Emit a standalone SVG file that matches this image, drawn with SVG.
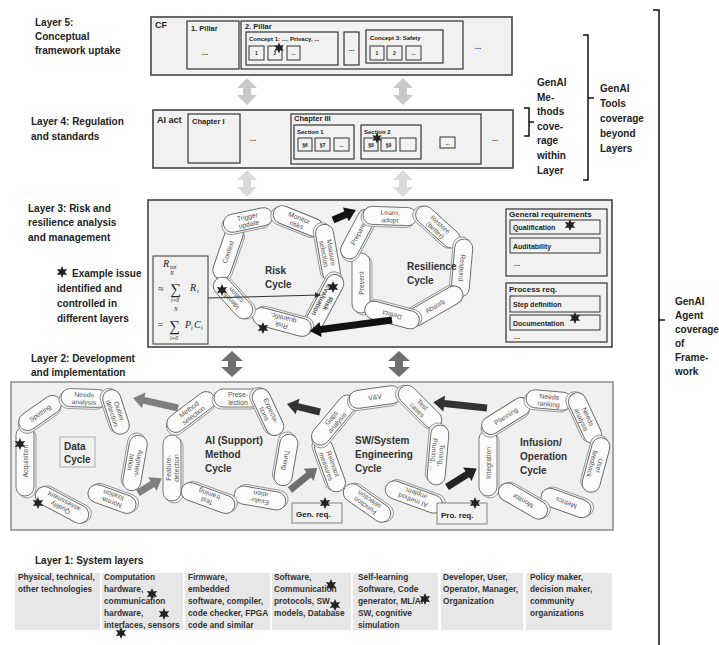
<svg xmlns="http://www.w3.org/2000/svg" xmlns:xlink="http://www.w3.org/1999/xlink" width="719" height="645" viewBox="0 0 719 645">
<style>
text{font-family:"Liberation Sans",Arial,sans-serif}
.lbl{font-size:10px;font-weight:bold;fill:#222}
.box{fill:#f1f1f1;stroke:#444;stroke-width:1.6}
.ibox{fill:#f1f1f1;stroke:#333;stroke-width:1.2}
.sbox{fill:#f1f1f1;stroke:#333;stroke-width:1}
.lay{fill:#f0f0f0;stroke:#8a8a8a;stroke-width:1.5}
.pill{fill:#fbfbfb;stroke:#666;stroke-width:0.9}
.pillb{fill:#f3f3f3;stroke:#888;stroke-width:0.8}
.pt{font-size:6.8px;fill:#555;text-anchor:middle}
.cyc{font-size:10px;font-weight:bold;fill:#333}
.b9{font-size:9px;font-weight:bold;fill:#222}
.b8{font-size:7.5px;font-weight:bold;fill:#222}
.b6{font-size:6px;font-weight:bold;fill:#222}
.s5{font-size:5px;font-weight:bold;fill:#222;text-anchor:middle}
.req{font-size:8px;font-weight:bold;fill:#222}
.req7{font-size:7px;font-weight:bold;fill:#222}
.cell{fill:#e7e7e7}
.tt{font-size:8.3px;font-weight:bold;fill:#333}
.br{fill:none;stroke:#111;stroke-width:1.5}
.m{font-family:"Liberation Serif","Times New Roman",serif;font-style:italic;fill:#222}
.dots{font-size:8px;font-weight:bold;fill:#444;text-anchor:middle}
</style>
<defs>
<path id="star" d="M0,-6 L1.5,-2.6 L5.2,-3 L3,0 L5.2,3 L1.5,2.6 L0,6 L-1.5,2.6 L-5.2,3 L-3,0 L-5.2,-3 L-1.5,-2.6 Z" fill="#222"/>
<marker id="ah" markerWidth="6" markerHeight="6" refX="5" refY="3" orient="auto" markerUnits="userSpaceOnUse"><path d="M0,0 L6,3 L0,6 Z" fill="#333"/></marker>
</defs>

<!-- Layer labels -->
<g id="labels">
<text class="lbl" x="35" y="26">Layer 5:</text>
<text class="lbl" x="35" y="40">Conceptual</text>
<text class="lbl" x="35" y="54">framework uptake</text>
<text class="lbl" x="31" y="125">Layer 4: Regulation</text>
<text class="lbl" x="31" y="140">and standards</text>
<text class="lbl" x="28" y="212">Layer 3: Risk and</text>
<text class="lbl" x="28" y="226">resilience analysis</text>
<text class="lbl" x="28" y="241">and management</text>
<text class="lbl" x="72" y="277">Example issue</text>
<text class="lbl" x="57" y="292">identified and</text>
<text class="lbl" x="57" y="307">controlled  in</text>
<text class="lbl" x="57" y="322">different  layers</text>
<text class="lbl" x="31" y="362">Layer 2: Development</text>
<text class="lbl" x="31" y="376">and implementation</text>
<text class="lbl" x="35" y="564">Layer 1: System layers</text>
</g>

<!-- Brackets -->
<g id="brackets">
<path class="br" d="M653,10 H659 V645 M659,320 H665"/>
<path class="br" d="M583,35 H588 V180 H583 M588,98 H594"/>
<path class="br" d="M524,108 H529 V136 H524 M529,122 H534"/>
<text class="lbl" x="537" y="86">GenAI</text>
<text class="lbl" x="537" y="101">Me-</text>
<text class="lbl" x="537" y="115">thods</text>
<text class="lbl" x="537" y="130">cove-</text>
<text class="lbl" x="537" y="144">rage</text>
<text class="lbl" x="537" y="159">within</text>
<text class="lbl" x="537" y="174">Layer</text>
<text class="lbl" x="600" y="92">GenAI</text>
<text class="lbl" x="600" y="107">Tools</text>
<text class="lbl" x="600" y="122">coverage</text>
<text class="lbl" x="600" y="137">beyond</text>
<text class="lbl" x="600" y="152">Layers</text>
<text class="lbl" x="675" y="305">GenAI</text>
<text class="lbl" x="675" y="319">Agent</text>
<text class="lbl" x="675" y="333">coverage</text>
<text class="lbl" x="675" y="347">of</text>
<text class="lbl" x="675" y="361">Frame-</text>
<text class="lbl" x="675" y="375">work</text>
</g>

<!-- Layer 5 -->
<g id="layer5">
<rect class="box" x="151" y="17" width="361" height="58"/>
<text class="b9" x="155" y="28">CF</text>
<rect class="ibox" x="187" y="21" width="52" height="48"/>
<text class="b8" x="191" y="31">1. Pillar</text>
<text class="dots" x="205" y="55">...</text>
<rect class="ibox" x="241" y="21" width="222" height="48"/>
<text class="b8" x="245" y="29">2. Pillar</text>
<rect class="ibox" x="246" y="32" width="92" height="33"/>
<text class="b6" x="249" y="41">Concept 1: ..., Privacy, ...</text>
<rect class="sbox" x="249" y="46" width="15" height="14"/>
<rect class="sbox" x="268" y="46" width="14" height="14"/>
<rect class="sbox" x="287" y="46" width="13" height="14"/>
<text class="s5" x="256.5" y="55">1</text>
<text class="s5" x="275" y="55">2</text>
<text class="s5" x="293.5" y="55">...</text>
<rect class="ibox" x="344" y="32" width="15" height="33"/>
<text class="dots" x="351.5" y="51">...</text>
<rect class="ibox" x="366" y="30" width="77" height="33"/>
<text class="b6" x="370" y="40">Concept 3: Safety</text>
<rect class="sbox" x="370" y="46" width="14" height="14"/>
<rect class="sbox" x="387" y="46" width="15" height="14"/>
<rect class="sbox" x="406" y="46" width="15" height="14"/>
<text class="s5" x="377" y="55">1</text>
<text class="s5" x="394.5" y="55">2</text>
<text class="s5" x="413.5" y="55">...</text>
<text class="dots" x="478" y="49">...</text>
<use href="#star" transform="translate(279,48) scale(0.9)"/>
</g>

<!-- Layer 4 -->
<g id="layer4">
<rect class="box" x="153" y="110" width="360" height="58"/>
<text class="b9" x="157" y="123">AI act</text>
<rect class="ibox" x="188" y="114" width="52" height="49"/>
<text class="b8" x="192" y="124">Chapter I</text>
<text class="dots" x="253" y="141">...</text>
<rect class="ibox" x="291" y="114" width="190" height="50"/>
<text class="b8" x="294" y="121">Chapter III</text>
<rect class="ibox" x="294" y="125" width="60" height="34"/>
<text class="b6" x="297" y="134">Section 1</text>
<rect class="sbox" x="298" y="138" width="14" height="13"/>
<rect class="sbox" x="315" y="138" width="15" height="13"/>
<rect class="sbox" x="334" y="138" width="15" height="13"/>
<text class="s5" x="305" y="146.5">§6</text>
<text class="s5" x="322.5" y="146.5">§7</text>
<text class="s5" x="341.5" y="146.5">...</text>
<rect class="ibox" x="361" y="125" width="60" height="34"/>
<text class="b6" x="364" y="134">Section 2</text>
<rect class="sbox" x="364" y="138" width="14" height="13"/>
<rect class="sbox" x="381" y="138" width="15" height="13"/>
<rect class="sbox" x="400" y="138" width="16" height="13"/>
<text class="s5" x="371" y="146.5">§8</text>
<text class="s5" x="388.5" y="146.5">§9</text>
<rect class="sbox" x="440" y="137" width="15" height="11"/>
<text class="s5" x="447.5" y="144.5">...</text>
<text class="dots" x="495" y="141">...</text>
<use href="#star" transform="translate(377,138) scale(0.9)"/>
</g>

<!-- Layer 3 -->
<g id="layer3">
<rect class="box" x="148" y="200" width="464" height="147"/>
<rect class="ibox" x="506" y="209" width="101" height="67"/>
<text class="req" x="509" y="217">General requirements</text>
<rect class="sbox" x="510" y="220" width="90" height="14"/>
<text class="req7" x="513" y="230">Qualification</text>
<rect class="sbox" x="510" y="238" width="90" height="15"/>
<text class="req7" x="513" y="248.5">Auditability</text>
<text class="dots" x="517" y="266">...</text>
<rect class="ibox" x="506" y="283" width="101" height="59"/>
<text class="req" x="509" y="292">Process req.</text>
<rect class="sbox" x="510" y="296" width="90" height="16"/>
<text class="req7" x="513" y="307">Step definition</text>
<rect class="sbox" x="510" y="315" width="90" height="15"/>
<text class="req7" x="513" y="325.5">Documentation</text>
<text class="dots" x="517" y="339">...</text>
<use href="#star" transform="translate(570,225)"/>
<use href="#star" transform="translate(575,318)"/>
</g>

<g id="formula">
<rect class="sbox" x="153" y="256" width="55" height="88" stroke="#444"/>
<text class="m" x="163" y="267" font-size="10">R</text>
<text class="m" x="170" y="269" font-size="6">tot</text>
<text class="m" x="170" y="275" font-size="5.5">N</text>
<text class="m" x="158" y="292" font-size="10" font-style="normal">≈</text>
<text class="m" x="170" y="294" font-size="15" font-style="normal">∑</text>
<text class="m" x="190" y="291" font-size="10">R</text>
<text class="m" x="197" y="293" font-size="6">i</text>
<text class="m" x="171" y="302" font-size="5.5">i=0</text>
<text class="m" x="174" y="311" font-size="5.5">N</text>
<text class="m" x="157" y="328" font-size="10" font-style="normal">=</text>
<text class="m" x="169" y="331" font-size="15" font-style="normal">∑</text>
<text class="m" x="185" y="328" font-size="10">P</text>
<text class="m" x="191" y="330" font-size="6">i</text>
<text class="m" x="194" y="328" font-size="10">C</text>
<text class="m" x="201" y="330" font-size="6">i</text>
<text class="m" x="170" y="340" font-size="5.5">i=0</text>
</g>

<!-- Risk cycle -->
<g id="risk-cycle">
<g transform="translate(228,252) rotate(-71)"><rect class="pillb" x="-30" y="-7" width="56" height="18" rx="9"/><rect class="pill" x="-28" y="-9" width="56" height="18" rx="9"/><text class="pt" y="2.5">Context</text></g>
<g transform="translate(248,220) rotate(-12)"><rect class="pillb" x="-27" y="-7" width="50" height="18" rx="9"/><rect class="pill" x="-25" y="-9" width="50" height="18" rx="9"/><text class="pt" y="-1">Trigger</text><text class="pt" y="6.5">update</text></g>
<g transform="translate(298,221) rotate(22)"><rect class="pillb" x="-28" y="-7" width="52" height="18" rx="9"/><rect class="pill" x="-26" y="-9" width="52" height="18" rx="9"/><text class="pt" y="-1">Monitor</text><text class="pt" y="6.5">risks</text></g>
<g transform="translate(328,253) rotate(80)"><rect class="pillb" x="-31" y="-7" width="58" height="18" rx="9"/><rect class="pill" x="-29" y="-9" width="58" height="18" rx="9"/><text class="pt" y="-1">Measure</text><text class="pt" y="6.5">selection</text></g>
<g transform="translate(325,302) rotate(118)"><rect class="pillb" x="-32" y="-7" width="60" height="18" rx="9"/><rect class="pill" x="-30" y="-9" width="60" height="18" rx="9"/><text class="pt" y="-1" font-weight="bold">Risk</text><text class="pt" y="6.5" font-weight="bold">Evaluation</text></g>
<g transform="translate(282,322) rotate(195)"><rect class="pillb" x="-32" y="-7" width="60" height="18" rx="9"/><rect class="pill" x="-30" y="-9" width="60" height="18" rx="9"/><text class="pt" y="-1">Risk</text><text class="pt" y="6.5">quantific.</text></g>
<g transform="translate(233,298) rotate(228)"><rect class="pillb" x="-27" y="-7" width="50" height="18" rx="9"/><rect class="pill" x="-25" y="-9" width="50" height="18" rx="9"/><text class="pt" y="-1">Identifi-</text><text class="pt" y="6.5">cation</text></g>
<text class="cyc" x="265" y="274">Risk</text>
<text class="cyc" x="265" y="288">Cycle</text>
<use href="#star" transform="translate(222,290)"/>
<use href="#star" transform="translate(263,328)"/>
<use href="#star" transform="translate(333,287)"/>
</g>

<!-- Resilience cycle -->
<g id="resilience-cycle">
<g transform="translate(361,283) rotate(-90)"><rect class="pillb" x="-32" y="-7" width="60" height="18" rx="9"/><rect class="pill" x="-30" y="-9" width="60" height="18" rx="9"/><text class="pt" y="2.5">Prevent</text></g>
<g transform="translate(358,234) rotate(-62)"><rect class="pillb" x="-29" y="-7" width="54" height="18" rx="9"/><rect class="pill" x="-27" y="-9" width="54" height="18" rx="9"/><text class="pt" y="2.5">Prepare</text></g>
<g transform="translate(390,216) rotate(2)"><rect class="pillb" x="-29" y="-7" width="54" height="18" rx="9"/><rect class="pill" x="-27" y="-9" width="54" height="18" rx="9"/><text class="pt" y="-1">Learn,</text><text class="pt" y="6.5">adopt</text></g>
<g transform="translate(438,227) rotate(42)"><rect class="pillb" x="-29" y="-7" width="54" height="18" rx="9"/><rect class="pill" x="-27" y="-9" width="54" height="18" rx="9"/><text class="pt" y="-1">Restore</text><text class="pt" y="6.5">(better)</text></g>
<g transform="translate(462,268) rotate(95)"><rect class="pillb" x="-31" y="-7" width="58" height="18" rx="9"/><rect class="pill" x="-29" y="-9" width="58" height="18" rx="9"/><text class="pt" y="2.5">Respond</text></g>
<g transform="translate(435,306) rotate(-30)"><rect class="pillb" x="-33" y="-11" width="62" height="18" rx="9"/><rect class="pill" x="-31" y="-9" width="62" height="18" rx="9"/><text class="pt" y="2.5">Absorb</text></g>
<g transform="translate(392,315) rotate(195)"><rect class="pillb" x="-30" y="-7" width="56" height="18" rx="9"/><rect class="pill" x="-28" y="-9" width="56" height="18" rx="9"/><text class="pt" y="2.5">Detect</text></g>
<text class="cyc" x="407" y="270">Resilience</text>
<text class="cyc" x="407" y="284">Cycle</text>
</g>

<!-- Layer 2 -->
<rect class="lay" x="11" y="382" width="602" height="148"/>

<g id="data-cycle">
<g transform="translate(25,461) rotate(-90)"><rect class="pillb" x="-37" y="-7" width="70" height="18" rx="9"/><rect class="pill" x="-35" y="-9" width="70" height="18" rx="9"/><text class="pt" y="2.5">Acquisition</text></g>
<g transform="translate(40,413) rotate(-35)"><rect class="pillb" x="-26" y="-7" width="48" height="18" rx="9"/><rect class="pill" x="-24" y="-9" width="48" height="18" rx="9"/><text class="pt" y="2.5">Spotting</text></g>
<g transform="translate(84,398) rotate(2)"><rect class="pillb" x="-25" y="-7" width="46" height="18" rx="9"/><rect class="pill" x="-23" y="-9" width="46" height="18" rx="9"/><text class="pt" y="-1">Needs</text><text class="pt" y="6.5">analysis</text></g>
<g transform="translate(116,412) rotate(72)"><rect class="pillb" x="-25" y="-7" width="46" height="18" rx="9"/><rect class="pill" x="-23" y="-9" width="46" height="18" rx="9"/><text class="pt" y="-1">Outlier</text><text class="pt" y="6.5">detection</text></g>
<g transform="translate(135,463) rotate(100)"><rect class="pillb" x="-30" y="-7" width="56" height="18" rx="9"/><rect class="pill" x="-28" y="-9" width="56" height="18" rx="9"/><text class="pt" y="-1">Augmen-</text><text class="pt" y="6.5">tation</text></g>
<g transform="translate(112,499) rotate(200)"><rect class="pillb" x="-27" y="-7" width="50" height="18" rx="9"/><rect class="pill" x="-25" y="-9" width="50" height="18" rx="9"/><text class="pt" y="-1">Norma-</text><text class="pt" y="6.5">lization</text></g>
<g transform="translate(62,505) rotate(208)"><rect class="pillb" x="-31" y="-7" width="58" height="18" rx="9"/><rect class="pill" x="-29" y="-9" width="58" height="18" rx="9"/><text class="pt" y="-1">Quality</text><text class="pt" y="6.5">assessment</text></g>
<rect x="60" y="437" width="35" height="30" fill="none" stroke="#999" stroke-width="0.8"/>
<text class="cyc" x="64" y="450">Data</text>
<text class="cyc" x="64" y="463">Cycle</text>
<use href="#star" transform="translate(20,444)"/>
<use href="#star" transform="translate(38,503)"/>
</g>

<g id="ai-cycle">
<g transform="translate(172,468) rotate(-90)"><rect class="pillb" x="-35" y="-7" width="66" height="18" rx="9"/><rect class="pill" x="-33" y="-9" width="66" height="18" rx="9"/><text class="pt" y="-1">Feature-</text><text class="pt" y="6.5">detection</text></g>
<g transform="translate(191,412) rotate(-37)"><rect class="pillb" x="-30" y="-7" width="56" height="18" rx="9"/><rect class="pill" x="-28" y="-9" width="56" height="18" rx="9"/><text class="pt" y="-1">Method</text><text class="pt" y="6.5">selection</text></g>
<g transform="translate(238,398)"><rect class="pillb" x="-26" y="-7" width="48" height="18" rx="9"/><rect class="pill" x="-24" y="-9" width="48" height="18" rx="9"/><text class="pt" y="-1">Prese-</text><text class="pt" y="6.5">lection</text></g>
<g transform="translate(268,412) rotate(65)"><rect class="pillb" x="-27" y="-7" width="50" height="18" rx="9"/><rect class="pill" x="-25" y="-9" width="50" height="18" rx="9"/><text class="pt" y="-1">Expecta-</text><text class="pt" y="6.5">tions</text></g>
<g transform="translate(286,460) rotate(100)"><rect class="pillb" x="-28" y="-7" width="52" height="18" rx="9"/><rect class="pill" x="-26" y="-9" width="52" height="18" rx="9"/><text class="pt" y="2.5">Tuning</text></g>
<g transform="translate(260,498) rotate(190)"><rect class="pillb" x="-28" y="-7" width="52" height="18" rx="9"/><rect class="pill" x="-26" y="-9" width="52" height="18" rx="9"/><text class="pt" y="-1">Evalu-</text><text class="pt" y="6.5">ation</text></g>
<g transform="translate(208,498) rotate(200)"><rect class="pillb" x="-30" y="-7" width="56" height="18" rx="9"/><rect class="pill" x="-28" y="-9" width="56" height="18" rx="9"/><text class="pt" y="-1">Test</text><text class="pt" y="6.5">training</text></g>
<text class="cyc" x="205" y="444">AI (Support)</text>
<text class="cyc" x="205" y="458">Method</text>
<text class="cyc" x="205" y="472">Cycle</text>
</g>

<g id="sw-cycle">
<g transform="translate(330,465) rotate(70)"><rect class="pillb" x="-30" y="-7" width="56" height="18" rx="9"/><rect class="pill" x="-28" y="-9" width="56" height="18" rx="9"/><text class="pt" y="-1">Relevant</text><text class="pt" y="6.5">measures</text></g>
<g transform="translate(334,420) rotate(-50)"><rect class="pillb" x="-32" y="-7" width="60" height="18" rx="9"/><rect class="pill" x="-30" y="-9" width="60" height="18" rx="9"/><text class="pt" y="-1">Gaps</text><text class="pt" y="6.5">analysis</text></g>
<g transform="translate(375,397) rotate(-8)"><rect class="pillb" x="-28" y="-7" width="52" height="18" rx="9"/><rect class="pill" x="-26" y="-9" width="52" height="18" rx="9"/><text class="pt" y="2.5">V&amp;V</text></g>
<g transform="translate(420,407) rotate(45)"><rect class="pillb" x="-29" y="-7" width="54" height="18" rx="9"/><rect class="pill" x="-27" y="-9" width="54" height="18" rx="9"/><text class="pt" y="-1">Test</text><text class="pt" y="6.5">cases</text></g>
<g transform="translate(438,455) rotate(95)"><rect class="pillb" x="-32" y="-7" width="60" height="18" rx="9"/><rect class="pill" x="-30" y="-9" width="60" height="18" rx="9"/><text class="pt" y="-1">Tuning,</text><text class="pt" y="6.5">Pruning, ...</text></g>
<g transform="translate(414,497) rotate(200)"><rect class="pillb" x="-32" y="-7" width="60" height="18" rx="9"/><rect class="pill" x="-30" y="-9" width="60" height="18" rx="9"/><text class="pt" y="-1">AI method</text><text class="pt" y="6.5">implem.</text></g>
<g transform="translate(367,503) rotate(215)"><rect class="pillb" x="-29" y="-7" width="54" height="18" rx="9"/><rect class="pill" x="-27" y="-9" width="54" height="18" rx="9"/><text class="pt" y="-1">Function</text><text class="pt" y="6.5">selection</text></g>
<text class="cyc" x="355" y="444">SW/System</text>
<text class="cyc" x="355" y="458">Engineering</text>
<text class="cyc" x="355" y="472">Cycle</text>
</g>

<g id="infusion-cycle">
<g transform="translate(488,463) rotate(-90)"><rect class="pillb" x="-35" y="-7" width="66" height="18" rx="9"/><rect class="pill" x="-33" y="-9" width="66" height="18" rx="9"/><text class="pt" y="2.5">Integration</text></g>
<g transform="translate(506,416) rotate(-32)"><rect class="pillb" x="-29" y="-7" width="54" height="18" rx="9"/><rect class="pill" x="-27" y="-9" width="54" height="18" rx="9"/><text class="pt" y="2.5">Planning</text></g>
<g transform="translate(549,400) rotate(5)"><rect class="pillb" x="-25" y="-7" width="46" height="18" rx="9"/><rect class="pill" x="-23" y="-9" width="46" height="18" rx="9"/><text class="pt" y="-1">Needs</text><text class="pt" y="6.5">ranking</text></g>
<g transform="translate(585,418) rotate(65)"><rect class="pillb" x="-29" y="-7" width="54" height="18" rx="9"/><rect class="pill" x="-27" y="-9" width="54" height="18" rx="9"/><text class="pt" y="-1">Needs</text><text class="pt" y="6.5">analysis</text></g>
<g transform="translate(596,465) rotate(105)"><rect class="pillb" x="-30" y="-7" width="56" height="18" rx="9"/><rect class="pill" x="-28" y="-9" width="56" height="18" rx="9"/><text class="pt" y="-1">User</text><text class="pt" y="6.5">feedback</text></g>
<g transform="translate(566,503) rotate(200)"><rect class="pillb" x="-28" y="-7" width="52" height="18" rx="9"/><rect class="pill" x="-26" y="-9" width="52" height="18" rx="9"/><text class="pt" y="2.5">Metrics</text></g>
<g transform="translate(523,501) rotate(210)"><rect class="pillb" x="-29" y="-7" width="54" height="18" rx="9"/><rect class="pill" x="-27" y="-9" width="54" height="18" rx="9"/><text class="pt" y="2.5">Monitor</text></g>
<text class="cyc" x="520" y="446">Infusion/</text>
<text class="cyc" x="520" y="460">Operation</text>
<text class="cyc" x="520" y="474">Cycle</text>
</g>

<g id="gen-req">
<rect x="292" y="503" width="50" height="20" fill="#f1f1f1" stroke="#777" stroke-width="0.9"/>
<text class="req" x="296" y="517">Gen. req.</text>
<use href="#star" transform="translate(325,503)"/>
</g>
<g id="pro-req">
<rect x="437" y="503" width="50" height="21" fill="#f1f1f1" stroke="#777" stroke-width="0.9"/>
<text class="req" x="441" y="518">Pro. req.</text>
<use href="#star" transform="translate(475,503)"/>
</g>

<!-- Connectors -->
<g id="connectors">
<polygon fill="#c9c9c9" points="247,78 257,88 251,88 251,95 257,95 247,105 237,95 243,95 243,88 237,88"/>
<polygon fill="#c9c9c9" points="403,78 413,88 407,88 407,95 413,95 403,105 393,95 399,95 399,88 393,88"/>
<polygon fill="#dadada" points="247,170 257,180 251,180 251,187 257,187 247,197 237,187 243,187 243,180 237,180"/>
<polygon fill="#dadada" points="403,170 413,180 407,180 407,187 413,187 403,197 393,187 399,187 399,180 393,180"/>
<polygon fill="#6f6f6f" points="232,351 243,361 236,361 236,367 243,367 232,377 221,367 228,367 228,361 221,361"/>
<polygon fill="#6f6f6f" points="399,351 410,361 403,361 403,367 410,367 399,377 388,367 395,367 395,361 388,361"/>
<polygon fill="#7f7f7f" transform="translate(178,408) rotate(192.5)" points="0,-3.5 35,-3.5 35,-8 46,0 35,8 35,3.5 0,3.5"/>
<polygon fill="#7f7f7f" transform="translate(138,493) rotate(-32)" points="0,-3.5 17,-3.5 17,-8 28,0 17,8 17,3.5 0,3.5"/>
<polygon fill="#333" transform="translate(320,412) rotate(193.6)" points="0,-3.5 23,-3.5 23,-8 34,0 23,8 23,3.5 0,3.5"/>
<polygon fill="#6f6f6f" transform="translate(290,490) rotate(-39)" points="0,-3.5 24,-3.5 24,-8 35,0 24,8 24,3.5 0,3.5"/>
<polygon fill="#333" transform="translate(487,408) rotate(186)" points="0,-3.5 43,-3.5 43,-8 54,0 43,8 43,3.5 0,3.5"/>
<polygon fill="#222" transform="translate(447,487) rotate(-32)" points="0,-3.5 24,-3.5 24,-8 35,0 24,8 24,3.5 0,3.5"/>
<polygon fill="#111" transform="translate(333,220) rotate(-23.5)" points="0,-3.5 14,-3.5 14,-7.5 25,0 14,7.5 14,3.5 0,3.5"/>
<polygon fill="#111" transform="translate(392,320) rotate(172.4)" points="0,-3.5 72,-3.5 72,-7.5 83,0 72,7.5 72,3.5 0,3.5"/>
<line x1="208" y1="298" x2="320" y2="295" stroke="#333" stroke-width="1" marker-end="url(#ah)"/>
</g>

<use href="#star" transform="translate(62,272)"/>

<!-- Layer 1 -->
<g id="layer1">
<rect class="cell" x="15" y="573" width="85" height="57"/>
<rect class="cell" x="102" y="573" width="81" height="57"/>
<rect class="cell" x="185" y="573" width="85" height="57"/>
<rect class="cell" x="272" y="573" width="79" height="57"/>
<rect class="cell" x="353" y="573" width="85" height="57"/>
<rect class="cell" x="441" y="573" width="82" height="57"/>
<rect class="cell" x="526" y="573" width="86" height="57"/>
<text class="tt" x="18" y="580">Physical, technical,</text>
<text class="tt" x="18" y="592">other technologies</text>
<text class="tt" x="104" y="580">Computation</text>
<text class="tt" x="104" y="592">hardware,</text>
<text class="tt" x="104" y="604">communication</text>
<text class="tt" x="104" y="616">hardware,</text>
<text class="tt" x="104" y="628">interfaces, sensors</text>
<text class="tt" x="188" y="580">Firmware,</text>
<text class="tt" x="188" y="592">embedded</text>
<text class="tt" x="188" y="604">software, compiler,</text>
<text class="tt" x="188" y="616">code checker, FPGA</text>
<text class="tt" x="188" y="628">code and similar</text>
<text class="tt" x="274" y="580">Software,</text>
<text class="tt" x="274" y="592">Communication</text>
<text class="tt" x="274" y="604">protocols, SW</text>
<text class="tt" x="274" y="616">models, Database</text>
<text class="tt" x="358" y="580">Self-learning</text>
<text class="tt" x="358" y="592">Software, Code</text>
<text class="tt" x="358" y="604">generator, ML/AI</text>
<text class="tt" x="358" y="616">SW, cognitive</text>
<text class="tt" x="358" y="628">simulation</text>
<text class="tt" x="443" y="580">Developer, User,</text>
<text class="tt" x="443" y="592">Operator, Manager,</text>
<text class="tt" x="443" y="604">Organization</text>
<text class="tt" x="530" y="580">Policy maker,</text>
<text class="tt" x="530" y="592">decision maker,</text>
<text class="tt" x="530" y="604">community</text>
<text class="tt" x="530" y="616">organizations</text>
<use href="#star" transform="translate(152,594)"/>
<use href="#star" transform="translate(164,614)"/>
<use href="#star" transform="translate(121,633)"/>
<use href="#star" transform="translate(331,585)"/>
<use href="#star" transform="translate(335,605)"/>
<use href="#star" transform="translate(425,599)"/>
</g>
</svg>
